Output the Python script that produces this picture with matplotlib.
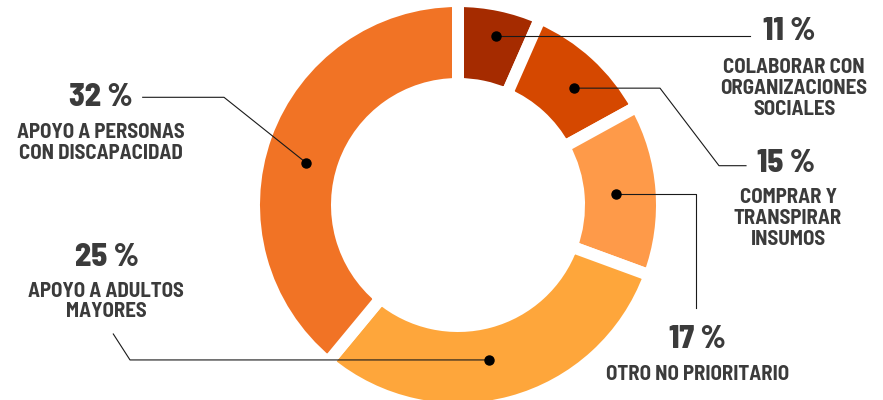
import matplotlib
matplotlib.use("Agg")
import matplotlib.pyplot as plt
import numpy as np

# slice sizes as they appear in the ring (clockwise from 12 o'clock)
shares = [6.6, 10.4, 13.6, 30.4, 39.0]
pct_labels = ["11 %", "15 %", "17 %", "25 %", "32 %"]
names = [
    "COLABORAR CON\nORGANIZACIONES\nSOCIALES",
    "COMPRAR Y\nTRANSPIRAR\nINSUMOS",
    "OTRO NO PRIORITARIO",
    "APOYO A ADULTOS\nMAYORES",
    "APOYO A PERSONAS\nCON DISCAPACIDAD",
]
colors = ["#A52B00", "#D54800", "#FE9A49", "#FEA63B", "#F17325"]

W, H = 883, 400
TEXT = "#3b3b3b"
plt.rcParams["font.family"] = ["Barlow Semi Condensed", "Barlow Condensed", "DejaVu Sans"]

# layout (pixel coords, y measured from top)
cx, cy = 458, 205
r_out, r_in, gap = 198, 127, 12
dot_frac = [0.53, 0.565, 0.51, 0.535, 0.47]
dot_r = [173, 165, 158, 158, 158]
legs = [
    [(750, None)],
    [(660, None), (719, 165.7), (746, 165.7)],
    [(695.7, None), (695.7, 308)],
    [(130, None), (113.3, 334)],
    [(224, 97.3), (142.7, 97.3)],
]
pct_pos = [(789, 32), (786, 163), (697.5, 340), (106.7, 258), (100.8, 98)]
name_pos = [(794, 88.5), (788, 218.5), (697.5, 375), (106, 301.5), (100.8, 143.4)]


def fy(y):
    return H - y


fig = plt.figure(figsize=(W / 100, H / 100), dpi=100)
ax = fig.add_axes([0, 0, 1, 1])

wedges, _ = ax.pie(
    shares,
    colors=colors,
    startangle=90,
    counterclock=False,
    center=(cx, fy(cy)),
    radius=r_out + gap / 2,
    wedgeprops=dict(width=(r_out - r_in) + gap, edgecolor="white",
                    linewidth=gap * 0.72),
)
ax.set_xlim(0, W)
ax.set_ylim(0, H)
ax.set_aspect("equal")
ax.axis("off")

for i, w in enumerate(wedges):
    th = np.radians(w.theta2 - dot_frac[i] * (w.theta2 - w.theta1))
    dx = cx + dot_r[i] * np.cos(th)
    dy = fy(cy) + dot_r[i] * np.sin(th)
    xs, ys = [dx], [dy]
    for px, py in legs[i]:
        xs.append(px)
        ys.append(ys[-1] if py is None else fy(py))
    ax.plot(xs, ys, color="#1a1a1a", lw=0.8, zorder=3)
    ax.plot(dx, dy, "o", color="black", ms=6.5, zorder=4)

    ax.text(pct_pos[i][0], fy(pct_pos[i][1]), pct_labels[i], ha="center",
            va="center", fontsize=23, fontweight=800, color=TEXT)
    ax.text(name_pos[i][0], fy(name_pos[i][1]), names[i], ha="center",
            va="center", fontsize=15, fontweight="bold", color=TEXT,
            linespacing=1.13)

fig.savefig("out.png", dpi=100)
